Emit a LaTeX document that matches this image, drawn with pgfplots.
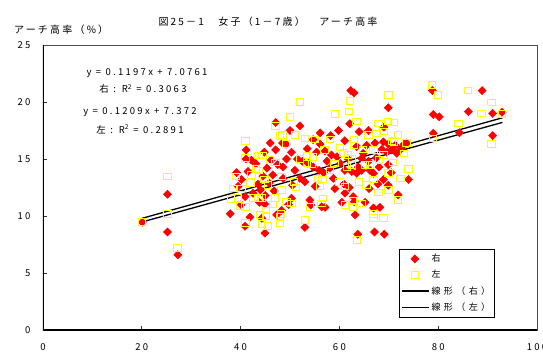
\documentclass[border=0pt]{standalone}
\usepackage{fontspec}
\setmainfont{Noto Sans CJK JP}
\newfontfamily\myjp[LetterSpace=22]{Noto Sans CJK JP}
\newfontfamily\myleg[LetterSpace=38]{Noto Sans CJK JP}
\newfontfamily\mynum[LetterSpace=24]{Noto Sans CJK JP}
\usepackage{pgfplots}
\pgfplotsset{compat=1.18}
\definecolor{mred}{RGB}{255,0,0}
\definecolor{myel}{RGB}{255,255,0}
\pgfplotsset{
  markleg/.style={legend image code/.code={\draw[##1] plot coordinates {(13pt,0pt)};}},
  lineleg/.style={legend image code/.code={\draw[##1] (0pt,0pt) -- (27pt,0pt);}},
}
\begin{document}
\begin{tikzpicture}
\path[use as bounding box] (-43pt,-24pt) rectangle (500pt,330pt);
\begin{axis}[
  at={(0pt,0pt)}, anchor=south west,
  scale only axis, width=494pt, height=285pt,
  xmin=0, xmax=100, ymin=0, ymax=25,
  xtick={0,20,...,100}, ytick={0,5,...,25},
  tick align=inside, xtick pos=bottom, ytick pos=left,
  major tick length=4pt,
  axis line style={black!70, line width=0.6pt},
  tick style={black!80, line width=0.7pt},
  /pgf/number format/assume math mode=true,
  ticklabel style={font=\mynum\fontsize{9.5}{10}\selectfont},
  xticklabel style={yshift=-10pt},
  yticklabel style={xshift=-9pt},
  legend style={at={(0.7206,0.284)}, anchor=north west, draw=black, line width=0.5pt,
     font=\myleg\fontsize{9}{10}\selectfont, row sep=3pt, inner xsep=2pt, inner ysep=3pt},
  legend cell align=left,
]
\addplot[only marks, mark=square*, mark size=2.9pt, color=mred, mark options={rotate=45, fill=mred, draw=mred}, markleg] coordinates {
(20.1,9.45)(25.2,11.9)(25.2,8.6)(27.3,6.6)(37.9,10.2)(39.2,13.8)(40.2,13.2)(40.1,11.0)
(40.9,11.7)(40.9,9.1)(41.1,15.8)(41.1,15.0)(41.9,9.9)(42.2,14.9)(43.1,14.6)(44.3,9.8)
(44.9,11.05)(44.9,8.5)(45.3,14.2)(46.2,14.9)(47.1,18.2)(47.1,15.8)(47.3,10.1)(48.5,16.4)
(48.3,10.5)(48.6,14.3)(48.6,13.3)(49.2,16.3)(49.3,15.0)(50.0,17.5)(50.3,15.6)(50.3,11.55)
(51.0,14.0)(52.0,17.9)(52.0,13.3)(53.0,9.0)(53.7,14.6)(54.0,11.4)(54.2,10.96)(54.7,16.7)
(54.7,14.3)(55.1,12.6)(55.4,15.6)(56.1,17.3)(56.1,16.3)(56.4,10.8)(57.1,15.7)(57.1,10.76)
(58.2,17.05)(58.4,15.35)(58.1,14.2)(59.1,12.4)(60.9,12.8)(61.1,16.6)(61.1,14.0)(61.1,12.0)
(62.1,18.1)(62.3,21.0)(63.0,20.8)(62.5,13.9)(62.8,11.7)(63.0,11.25)(63.2,10.1)(63.5,16.1)
(63.5,13.75)(63.7,8.4)(64.0,17.4)(64.5,15.05)(63.8,14.3)(64.5,14.0)(65.2,11.2)(65.9,17.5)
(65.9,14.8)(66.2,14.0)(66.9,13.75)(66.9,10.7)(67.1,8.6)(67.2,16.4)(68.2,10.76)(68.6,15.85)
(68.9,16.5)(68.9,13.2)(69.1,8.4)(69.6,15.6)(69.9,19.5)(69.9,16.3)(69.9,14.5)(69.9,12.7)
(70.6,15.8)(71.3,16.2)(71.6,15.5)(71.9,11.85)(73.1,16.3)(73.6,16.4)(74.0,13.2)(78.8,21.0)
(79.0,18.9)(79.0,17.25)(80.2,18.7)(84.3,17.3)(86.1,19.15)(88.9,21.0)(91.0,19.0)(91.0,17.05)
(92.9,19.1)
(43.5,12.8)(44.5,13.5)(45.8,12.9)(46.5,13.6)(44.0,12.3)(45.0,11.8)(46.8,12.2)(47.5,14.5)
(42.5,12.0)(43.8,11.2)(39.5,12.6)(41.5,13.9)(46.0,16.4)(44.8,15.6)
(51.5,15.0)(52.5,14.8)(53.5,15.9)(55.9,14.0)(56.8,13.8)(57.5,14.8)(53.0,13.0)(50.5,12.7)(49.7,11.0)
(59.5,15.2)(60.2,14.6)(58.8,13.3)(61.8,15.0)(62.0,12.5)(60.5,11.2)(59.8,17.5)
(64.8,15.5)(65.5,16.2)(67.5,15.1)(68.0,14.3)(70.5,13.8)(66.0,12.4)(67.8,12.8)(72.5,15.9)(69.0,17.8)
};
\addlegendentry{右}
\addplot[only marks, mark=square, mark size=3.3pt, color=myel, mark options={xscale=1.12, draw=myel, line width=1pt}, markleg] coordinates {
(20.1,9.45)(25.2,13.45)(25.2,10.2)(27.2,7.2)(38.1,11.5)(38.5,12.4)(39.1,13.45)(39.5,11.6)
(39.9,10.9)(40.2,12.4)(41.0,16.6)(41.0,15.1)(41.0,10.8)(41.0,9.4)(42.2,13.6)(42.6,11.6)
(43.1,14.1)(43.6,15.3)(43.6,11.6)(43.6,14.0)(44.3,11.6)(44.3,9.3)(44.4,15.3)(43.9,10.1)
(45.1,10.5)(45.1,10.0)(45.5,9.1)(46.0,14.9)(47.0,11.6)(47.1,17.9)(47.1,14.7)(48.0,17.0)
(48.0,9.9)(48.0,9.4)(48.2,10.2)(48.3,13.45)(48.3,12.3)(48.5,17.1)(49.2,16.3)(49.3,11.25)
(50.0,18.7)(50.3,11.1)(50.8,13.0)(51.0,17.1)(51.2,12.5)(52.0,20.0)(52.0,15.0)(53.0,16.8)
(53.0,9.65)(53.4,15.3)(53.4,14.6)(54.0,10.8)(54.4,14.56)(54.7,15.15)(55.1,16.7)(55.7,13.3)
(56.1,12.6)(56.4,11.1)(56.6,13.2)(56.7,11.55)(58.1,16.7)(58.1,14.0)(59.1,18.95)(60.1,16.0)
(60.8,15.55)(61.1,12.6)(61.1,10.96)(61.5,14.3)(61.8,15.35)(62.0,19.15)(62.1,20.1)(62.5,15.05)
(62.5,14.5)(62.8,10.8)(62.8,11.3)(63.0,16.7)(63.0,16.2)(63.5,18.3)(63.6,7.9)(64.5,11.1)
(64.8,15.85)(65.2,14.5)(65.9,17.1)(66.2,14.5)(66.9,15.8)(66.9,13.2)(66.9,10.2)(66.9,9.8)
(67.5,17.25)(67.9,18.1)(67.9,12.05)(68.9,17.4)(68.9,15.35)(68.9,9.8)(69.9,20.6)(69.8,18.3)
(69.9,13.75)(69.9,12.3)(70.6,16.6)(71.1,18.2)(71.1,16.5)(71.9,17.1)(71.9,11.4)(73.1,15.5)
(73.6,16.4)(74.0,14.1)(78.7,21.5)(79.0,16.8)(80.0,20.6)(84.1,18.1)(86.0,21.0)(88.8,19.0)
(90.8,19.95)(90.8,16.3)(92.9,18.95)
(42.0,12.9)(45.5,12.7)(46.5,11.0)(44.8,13.2)(57.0,15.8)(59.0,14.6)(60.0,13.0)(64.0,13.0)
(65.5,12.7)(68.0,14.9)(70.8,14.7)(72.4,13.3)
};
\addlegendentry{左}
\addplot[black, line width=1.3pt, no marks, lineleg] coordinates {(20,9.4701)(93,18.2082)};
\addlegendentry{線形（右）}
\addplot[black, line width=1.3pt, no marks, lineleg] coordinates {(20,9.790)(93,18.6157)};
\addlegendentry{線形（左）}
\draw[black, line width=1.4pt] (axis cs:0,25) -- (axis cs:0,0) -- (axis cs:100,0);
\end{axis}
\node[font=\myjp\fontsize{10}{12}\selectfont, anchor=center] at (225pt,308pt) {図25－1　女子（1－7歳）　アーチ高率};
\node[font=\myjp\fontsize{10}{12}\selectfont, anchor=west, inner sep=0pt] at (-29pt,300pt) {アーチ高率（\%）};
\node[font=\mynum\fontsize{9.5}{11}\selectfont] at (104pt,257pt) {y = 0.1197x + 7.0761};
\node[font=\mynum\fontsize{9.5}{11}\selectfont] at (100pt,241pt) {右 : R\textsuperscript{2} = 0.3063};
\node[font=\mynum\fontsize{9.5}{11}\selectfont] at (97pt,218pt) {y = 0.1209x + 7.372};
\node[font=\mynum\fontsize{9.5}{11}\selectfont] at (97pt,201pt) {左 : R\textsuperscript{2} = 0.2891};
\end{tikzpicture}
\end{document}
